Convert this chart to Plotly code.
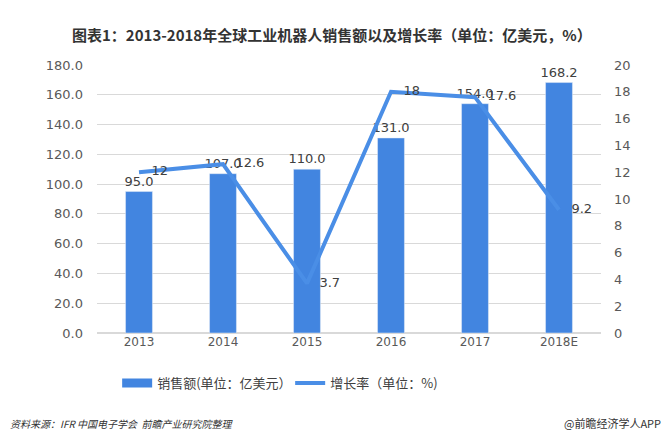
import plotly.graph_objects as go

# data
years = ['2013', '2014', '2015', '2016', '2017', '2018E']
sales = [95.0, 107.0, 110.0, 131.0, 154.0, 168.2]
growth = [12, 12.6, 3.7, 18, 17.6, 9.2]
sales_text = ['95.0', '107.0', '110.0', '131.0', '154.0', '168.2']
growth_text = ['12', '12.6', '3.7', '18', '17.6', '9.2']

cjk = 'Noto Sans CJK SC'
blue = '#4285e0'
num_font = dict(size=13, color='#404040', family='DejaVu Sans')

fig = go.Figure()
fig.add_trace(go.Bar(
    x=years, y=sales, name='销售额(单位：亿美元）', showlegend=False,
    marker_color=blue, width=0.32,
    text=sales_text, textposition='outside', constraintext='none', textangle=0,
    textfont=num_font, cliponaxis=False))
# legend entry for the bars (wide swatch like the original)
fig.add_trace(go.Scatter(
    x=[None], y=[None], name='销售额(单位：亿美元）', mode='lines',
    line=dict(color=blue, width=9)))
fig.add_trace(go.Scatter(
    x=years, y=growth, name='增长率（单位：%)', yaxis='y2',
    mode='lines+text', line=dict(color='#4a8ee6', width=4),
    text=['\u00a0\u00a0\u00a0' + t for t in growth_text], textposition='middle right',
    textfont=num_font, cliponaxis=False))

# page body has an 8px margin, so everything is placed 8px up/left
fig.update_layout(
    width=669, height=442,
    margin=dict(l=89, r=76, t=57, b=117, autoexpand=False),
    paper_bgcolor='white', plot_bgcolor='white',
    font=dict(family=cjk, size=12, color='#595959'),
    showlegend=True,
    legend=dict(orientation='h', x=0.04, xanchor='left', y=-0.187, yanchor='middle',
                font=dict(size=13, color='#404040', family=cjk),
                entrywidth=128, entrywidthmode='pixels', itemwidth=30),
    xaxis=dict(showline=False, ticks='', tickfont=dict(size=12, family='DejaVu Sans')),
    yaxis=dict(range=[0, 180], dtick=20, tickformat='.1f', showgrid=True,
               gridcolor='#d9d9d9', zeroline=True, zerolinecolor='#d9d9d9',
               tickfont=dict(size=13, family='DejaVu Sans'), ticklabelstandoff=13),
    yaxis2=dict(range=[0, 20], dtick=2, overlaying='y', side='right', showgrid=False,
                zeroline=False, tickfont=dict(size=13, family='DejaVu Sans'),
                ticklabelstandoff=12),
    bargap=0.6,
)

fig.add_annotation(text='<b>图表1：2013-2018年全球工业机器人销售额以及增长率（单位：亿美元，%）</b>',
                   xref='paper', yref='paper', x=0.5, y=1, yshift=43, xshift=-17,
                   showarrow=False, font=dict(size=15, color='#333333', family=cjk))
fig.add_annotation(text='<i>资料来源：IFR 中国电子学会  前瞻产业研究院整理</i>',
                   xref='paper', yref='paper', x=0, y=0, xshift=-89, yshift=-90,
                   xanchor='left', yanchor='middle', showarrow=False,
                   font=dict(size=10, color='#333333', family=cjk))
fig.add_annotation(text='@前瞻经济学人APP',
                   xref='paper', yref='paper', x=1, y=0, xshift=62, yshift=-90,
                   xanchor='right', yanchor='middle', showarrow=False,
                   font=dict(size=11, color='#333333', family=cjk))

fig.write_html("out.html")
